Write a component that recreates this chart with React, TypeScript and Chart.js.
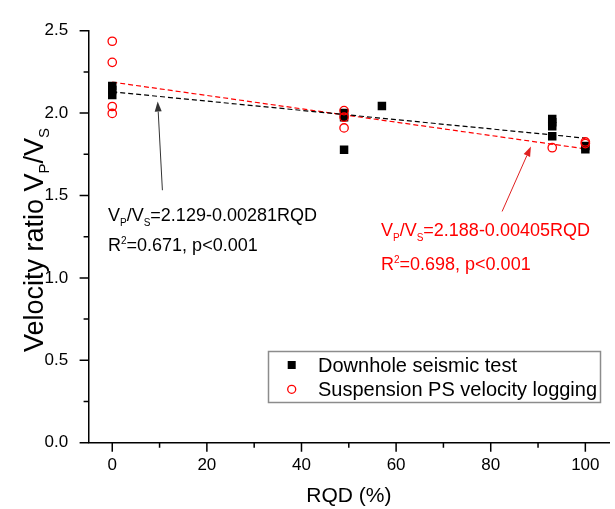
import React, { useEffect, useRef } from 'react';
import { Chart, registerables } from 'chart.js';

Chart.register(...registerables);

const FONT = '"Liberation Sans", Arial, Helvetica, sans-serif';

// ---- data ----
const downholeRQD = [0, 0, 0, 49, 49, 49, 57, 93, 93, 93, 93, 100, 100];
const downholeRatio = [2.165, 2.14, 2.11, 2.0, 1.975, 1.777, 2.043, 1.965, 1.945, 1.92, 1.86, 1.8, 1.78];

const loggingRQD = [0, 0, 0, 0, 49, 49, 49, 93, 100, 100];
const loggingRatio = [2.436, 2.308, 2.04, 1.998, 2.015, 1.975, 1.91, 1.79, 1.825, 1.815];

const fitRQD = [0, 100];
const downholeFit = [2.129, 1.848];
const loggingFit = [2.188, 1.783];

const xMajorTicks = [0, 20, 40, 60, 80, 100];
const xMinorTicks = [10, 30, 50, 70, 90];
const yMajorTicks = [0, 0.5, 1.0, 1.5, 2.0, 2.5];
const yMinorTicks = [0.25, 0.75, 1.25, 1.75, 2.25];

const seriesLabels = ['Downhole seismic test', 'Suspension PS velocity logging'];

type Run = { t: string; s: number; dy: number };

function runsWidth(ctx: CanvasRenderingContext2D, runs: Run[]) {
  let w = 0;
  for (const r of runs) {
    ctx.font = `${r.s}px ${FONT}`;
    w += ctx.measureText(r.t).width;
  }
  return w;
}

function drawRuns(ctx: CanvasRenderingContext2D, runs: Run[], x: number, y: number, color: string) {
  let cx = x;
  ctx.fillStyle = color;
  ctx.textAlign = 'left';
  ctx.textBaseline = 'alphabetic';
  for (const r of runs) {
    ctx.font = `${r.s}px ${FONT}`;
    ctx.fillText(r.t, cx, y + r.dy);
    cx += ctx.measureText(r.t).width;
  }
}

function arrow(ctx: CanvasRenderingContext2D, x0: number, y0: number, x1: number, y1: number, color: string) {
  const ang = Math.atan2(y1 - y0, x1 - x0);
  const len = 10;
  const hw = 3.5;
  const bx = x1 - len * Math.cos(ang);
  const by = y1 - len * Math.sin(ang);
  ctx.strokeStyle = color;
  ctx.lineWidth = 1;
  ctx.beginPath();
  ctx.moveTo(x0, y0);
  ctx.lineTo(bx, by);
  ctx.stroke();
  ctx.fillStyle = color;
  ctx.beginPath();
  ctx.moveTo(x1, y1);
  ctx.lineTo(bx + hw * Math.sin(ang), by - hw * Math.cos(ang));
  ctx.lineTo(bx - hw * Math.sin(ang), by + hw * Math.cos(ang));
  ctx.closePath();
  ctx.fill();
}

const overlayPlugin = {
  id: 'overlay',
  afterDraw(chart: any) {
    const { ctx, chartArea } = chart;
    const xs = chart.scales.x;
    const ys = chart.scales.y;
    ctx.save();

    // tick marks (outward)
    ctx.strokeStyle = '#000';
    ctx.lineWidth = 1.5;
    ctx.beginPath();
    for (const v of xMajorTicks) {
      const p = xs.getPixelForValue(v);
      ctx.moveTo(p, chartArea.bottom);
      ctx.lineTo(p, chartArea.bottom + 9);
    }
    for (const v of xMinorTicks) {
      const p = xs.getPixelForValue(v);
      ctx.moveTo(p, chartArea.bottom);
      ctx.lineTo(p, chartArea.bottom + 5);
    }
    for (const v of yMajorTicks) {
      const p = ys.getPixelForValue(v);
      ctx.moveTo(chartArea.left, p);
      ctx.lineTo(chartArea.left - 9, p);
    }
    for (const v of yMinorTicks) {
      const p = ys.getPixelForValue(v);
      ctx.moveTo(chartArea.left, p);
      ctx.lineTo(chartArea.left - 5, p);
    }
    ctx.stroke();

    // y-axis title with subscripts
    const yTitle: Run[] = [
      { t: 'Velocity ratio V', s: 27, dy: 0 },
      { t: 'P', s: 15, dy: 6 },
      { t: '/V', s: 27, dy: 0 },
      { t: 'S', s: 15, dy: 6 },
    ];
    const tw = runsWidth(ctx, yTitle);
    ctx.save();
    ctx.translate(43, 240);
    ctx.rotate(-Math.PI / 2);
    drawRuns(ctx, yTitle, -tw / 2, 0, '#000');
    ctx.restore();

    // regression annotations
    const black = '#000';
    const red = '#ff0000';
    const F = 18;
    const SUB = 10;
    drawRuns(ctx, [
      { t: 'V', s: F, dy: 0 }, { t: 'P', s: SUB, dy: 5 }, { t: '/V', s: F, dy: 0 }, { t: 'S', s: SUB, dy: 5 },
      { t: '=2.129-0.00281RQD', s: F, dy: 0 },
    ], xs.getPixelForValue(-0.9), ys.getPixelForValue(1.344), black);
    drawRuns(ctx, [
      { t: 'R', s: F, dy: 0 }, { t: '2', s: SUB, dy: -7 }, { t: '=0.671, p<0.001', s: F, dy: 0 },
    ], xs.getPixelForValue(-0.9), ys.getPixelForValue(1.161), black);

    drawRuns(ctx, [
      { t: 'V', s: F, dy: 0 }, { t: 'P', s: SUB, dy: 5 }, { t: '/V', s: F, dy: 0 }, { t: 'S', s: SUB, dy: 5 },
      { t: '=2.188-0.00405RQD', s: F, dy: 0 },
    ], xs.getPixelForValue(56.8), ys.getPixelForValue(1.2556), red);
    drawRuns(ctx, [
      { t: 'R', s: F, dy: 0 }, { t: '2', s: SUB, dy: -7 }, { t: '=0.698, p<0.001', s: F, dy: 0 },
    ], xs.getPixelForValue(56.8), ys.getPixelForValue(1.049), red);

    arrow(ctx, xs.getPixelForValue(10.6), ys.getPixelForValue(1.532), xs.getPixelForValue(9.6), ys.getPixelForValue(2.07), '#333');
    arrow(ctx, xs.getPixelForValue(82.4), ys.getPixelForValue(1.403), xs.getPixelForValue(88.5), ys.getPixelForValue(1.798), '#e02020');

    // legend box
    const lx0 = 268.5, ly0 = 351.5, lx1 = 600.5, ly1 = 402.5;
    ctx.fillStyle = '#fff';
    ctx.fillRect(lx0, ly0, lx1 - lx0, ly1 - ly0);
    ctx.strokeStyle = '#8c8c8c';
    ctx.lineWidth = 1.5;
    ctx.strokeRect(lx0, ly0, lx1 - lx0, ly1 - ly0);
    const ds = chart.data.datasets;
    ctx.fillStyle = ds[0].backgroundColor;
    ctx.fillRect(291.7 - 4, 365 - 4, 8, 8);
    ctx.strokeStyle = ds[1].borderColor;
    ctx.lineWidth = 1.3;
    ctx.beginPath();
    ctx.arc(291.7, 389.3, 4, 0, Math.PI * 2);
    ctx.stroke();
    drawRuns(ctx, [{ t: ds[0].label, s: 20, dy: 0 }], 318, 372, '#000');
    drawRuns(ctx, [{ t: ds[1].label, s: 20, dy: 0 }], 318, 396, '#000');

    ctx.restore();
  },
};

export default function App() {
  const canvasRef = useRef<HTMLCanvasElement | null>(null);

  useEffect(() => {
    const canvas = canvasRef.current;
    if (!canvas) return;
    const chart = new Chart(canvas, {
      type: 'scatter',
      data: {
        datasets: [
          {
            label: seriesLabels[0],
            data: downholeRQD.map((x, i) => ({ x, y: downholeRatio[i] })),
            pointStyle: 'rect',
            pointRadius: 6,
            backgroundColor: '#000000',
            borderColor: '#000000',
            borderWidth: 0,
            order: 2,
          },
          {
            label: seriesLabels[1],
            data: loggingRQD.map((x, i) => ({ x, y: loggingRatio[i] })),
            pointStyle: 'circle',
            pointRadius: 4.2,
            backgroundColor: 'rgba(0,0,0,0)',
            borderColor: '#ff0000',
            borderWidth: 1.3,
            order: 1,
          },
          {
            label: 'fit1',
            data: fitRQD.map((x, i) => ({ x, y: downholeFit[i] })),
            showLine: true,
            pointRadius: 0,
            borderColor: '#000000',
            borderWidth: 1.2,
            borderDash: [5, 3],
            order: 3,
          },
          {
            label: 'fit2',
            data: fitRQD.map((x, i) => ({ x, y: loggingFit[i] })),
            showLine: true,
            pointRadius: 0,
            borderColor: '#ff0000',
            borderWidth: 1.2,
            borderDash: [5, 3],
            order: 3,
          },
        ],
      },
      options: {
        animation: false,
        responsive: false,
        maintainAspectRatio: false,
        layout: { padding: { top: 19.3, right: 2, left: 0, bottom: 0 } },
        plugins: {
          legend: { display: false },
          tooltip: { enabled: false },
        },
        scales: {
          x: {
            type: 'linear',
            min: -5,
            max: 105,
            afterFit: (s: any) => { s.height = 66.3; },
            ticks: {
              stepSize: 20,
              includeBounds: false,
              color: '#000',
              padding: 12,
              font: { family: FONT, size: 17 },
            },
            grid: { display: false, drawTicks: false },
            border: { display: true, color: '#000', width: 1.5 },
            title: {
              display: true,
              text: 'RQD (%)',
              color: '#000',
              font: { family: FONT, size: 21 },
              padding: 0,
            },
          },
          y: {
            type: 'linear',
            min: 0,
            max: 2.5,
            afterFit: (s: any) => { s.width = 88.6; },
            ticks: {
              stepSize: 0.5,
              includeBounds: false,
              color: '#000',
              padding: 20.5,
              font: { family: FONT, size: 17 },
              callback: (v: any) => Number(v).toFixed(1),
            },
            grid: { display: false, drawTicks: false },
            border: { display: true, color: '#000', width: 1.5 },
          },
        },
      },
      plugins: [overlayPlugin],
    });
    return () => chart.destroy();
  }, []);

  return (
    <div style={{ position: 'absolute', left: 0, top: 0, width: 615, height: 509, background: '#fff' }}>
      <canvas ref={canvasRef} width={615} height={509} style={{ width: 615, height: 509, display: 'block' }} />
    </div>
  );
}
